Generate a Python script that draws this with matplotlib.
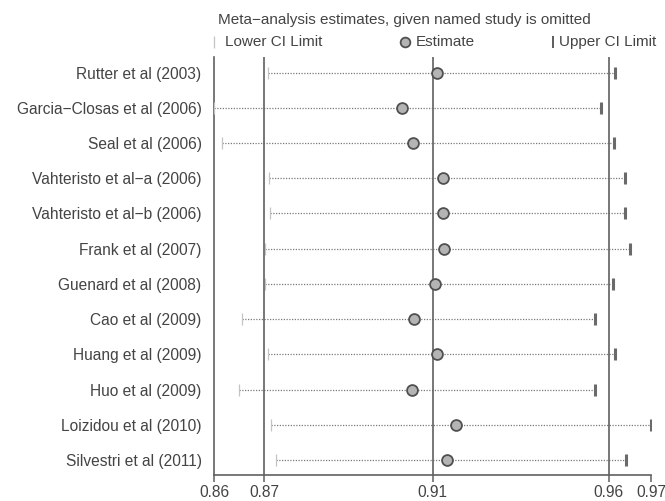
import matplotlib
matplotlib.use("Agg")
import matplotlib.pyplot as plt
from matplotlib.lines import Line2D

plt.rcParams["font.family"] = ["Liberation Sans", "DejaVu Sans"]

studies = [
    "Rutter et al (2003)",
    "Garcia\u2212Closas et al (2006)",
    "Seal et al (2006)",
    "Vahteristo et al\u2212a (2006)",
    "Vahteristo et al\u2212b (2006)",
    "Frank et al (2007)",
    "Guenard et al (2008)",
    "Cao et al (2009)",
    "Huang et al (2009)",
    "Huo et al (2009)",
    "Loizidou et al (2010)",
    "Silvestri et al (2011)",
]
lower = [0.8717, 0.8580, 0.8601, 0.8719, 0.8720, 0.8708,
         0.8708, 0.8650, 0.8717, 0.8644, 0.8723, 0.8736]
estimate = [0.9142, 0.9052, 0.9080, 0.9156, 0.9157, 0.9159,
            0.9136, 0.9083, 0.9141, 0.9079, 0.9188, 0.9166]
upper = [0.9589, 0.9553, 0.9586, 0.9615, 0.9615, 0.9628,
         0.9585, 0.9540, 0.9589, 0.9539, 0.9680, 0.9616]

# overall pooled estimate and CI
overall = [0.8707, 0.9130, 0.9574]
tick_vals = [0.8580, 0.8707, 0.9130, 0.9574, 0.9680]
tick_labels = ["0.86", "0.87", "0.91", "0.96", "0.97"]

TEXT = "#444444"
LINE = "#606060"
FS = 11.2

fig = plt.figure(figsize=(6.65, 5.01), dpi=100)
ax = fig.add_axes([214 / 665, 26 / 501, 437 / 665, 418 / 501])

rows = list(range(1, len(studies) + 1))

for y, lo, est, hi in zip(rows, lower, estimate, upper):
    ax.plot([lo, hi], [y, y], color="#7a7a7a", linewidth=0.9,
            linestyle=(0, (1, 1.2)), zorder=2)
ax.plot(lower, rows, linestyle="none", marker="|", markersize=8,
        markeredgewidth=0.9, color="#c4c4c4", zorder=3)
ax.plot(upper, rows, linestyle="none", marker="|", markersize=9,
        markeredgewidth=2.2, color="#6a6a6a", zorder=3)

for v in overall:
    ax.axvline(v, color=LINE, linewidth=1.2, zorder=4)

ax.plot(estimate, rows, linestyle="none", marker="o", markersize=7.8,
        markerfacecolor="#b4b4b4", markeredgecolor="#505050",
        markeredgewidth=1.3, zorder=5)

ax.set_xlim(tick_vals[0], tick_vals[-1])
ax.set_ylim(12.42, 0.56)
ax.set_xticks(tick_vals)
ax.set_xticklabels(tick_labels)
ax.set_yticks(rows)
ax.set_yticklabels(studies)

for side in ("top", "right"):
    ax.spines[side].set_visible(False)
for side in ("left", "bottom"):
    ax.spines[side].set_color(LINE)
    ax.spines[side].set_linewidth(1.2)

ax.tick_params(axis="y", length=0, pad=9, labelsize=FS, labelcolor=TEXT)
ax.tick_params(axis="x", length=5, width=1.1, color=LINE, pad=2,
               labelsize=FS, labelcolor=TEXT)

fig.text(218 / 665, 1 - 20 / 501, "Meta\u2212analysis estimates, given named study is omitted",
         fontsize=11, color=TEXT, ha="left", va="center")

ly = 1 - 42 / 501
fig.add_artist(Line2D([214 / 665], [ly], marker="|", markersize=8,
                      markeredgewidth=0.9, color="#c4c4c4", linestyle="none"))
fig.text(225 / 665, ly, "Lower CI Limit", fontsize=11, color=TEXT, ha="left", va="center")
fig.add_artist(Line2D([405 / 665], [ly], marker="o", markersize=7,
                      markerfacecolor="#b4b4b4", markeredgecolor="#505050",
                      markeredgewidth=1.3, linestyle="none"))
fig.text(416 / 665, ly, "Estimate", fontsize=11, color=TEXT, ha="left", va="center")
fig.add_artist(Line2D([553 / 665], [ly], marker="|", markersize=8,
                      markeredgewidth=1.3, color="#505050", linestyle="none"))
fig.text(559 / 665, ly, "Upper CI Limit", fontsize=11, color=TEXT, ha="left", va="center")

fig.savefig("out.png", dpi=100, facecolor="white")
